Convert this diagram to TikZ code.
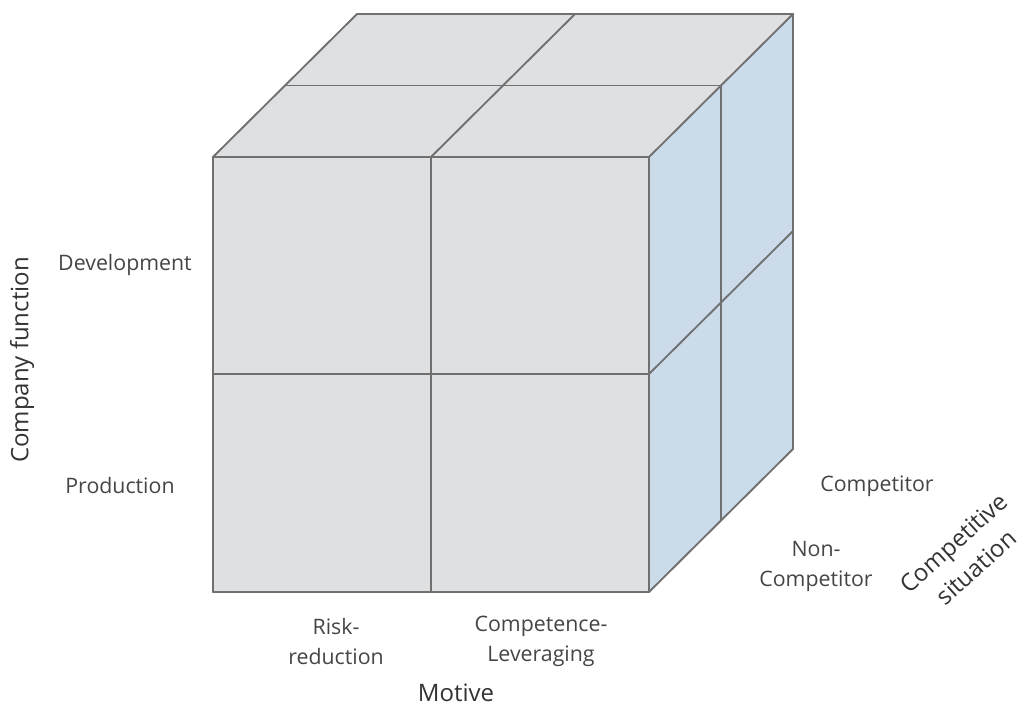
\documentclass[tikz,border=0pt]{standalone}
\usepackage{fontspec}
\setmainfont{Open Sans}
\definecolor{facegrey}{HTML}{DFE0E2}
\definecolor{sideblue}{HTML}{CBDBE9}
\definecolor{edgegrey}{HTML}{707070}
\definecolor{labelgrey}{HTML}{454545}

\begin{document}
\begin{tikzpicture}[x=0.75pt,y=-0.75pt,
    edge/.style={draw=edgegrey, line width=1.4pt, line cap=round},
    cell/.style={text=labelgrey, font=\fontsize{16}{22.5}\selectfont, align=center},
    axis/.style={text=black!80, font=\fontsize{18}{25}\selectfont, align=center}]
    \useasboundingbox (0,0) rectangle (1027,707);
    % faces of the cube
    \fill[facegrey] (213,157) rectangle (649,592);
    \fill[facegrey] (213,157) -- (357,14) -- (793,14) -- (649,157) -- cycle;
    \fill[sideblue] (649,157) -- (793,14) -- (793,449) -- (649,592) -- cycle;
    % front grid
    \foreach \x in {213,431,649}
        \draw[edge] (\x,157) -- (\x,592);
    \foreach \y in {157,374,592}
        \draw[edge] (213,\y) -- (649,\y);
    % top grid
    \foreach \x in {213,431,649}
        \draw[edge] (\x,157) -- ++(144,-143);
    \foreach \t in {0.5,1}
        \draw[edge] (213+144*\t,157-143*\t) -- ++(436,0);
    % side grid
    \foreach \t in {0.5,1}
        \draw[edge] (649+144*\t,157-143*\t) -- ++(0,435);
    \foreach \y in {374,592}
        \draw[edge] (649,\y) -- ++(144,-143);

    % labels
    \node[cell] (dev) at (125,265) {Development};
    \node[cell] (prod) at (120,485) {Production};
    \node[axis, rotate=90] (function) at (22,360) {Company function};
    \node[cell] (risk) at (336,641) {Risk-\\reduction};
    \node[cell] (lever) at (541,641) {Competence-\\Leveraging};
    \node[axis] (motive) at (456,693) {Motive};
    \node[cell] (comp) at (877,486) {Competitor};
    \node[cell] (noncomp) at (816,566) {Non-\\Competitor};
    \node[axis, rotate=42] (situation) at (965,555) {Competitive\\situation};
\end{tikzpicture}
\end{document}
